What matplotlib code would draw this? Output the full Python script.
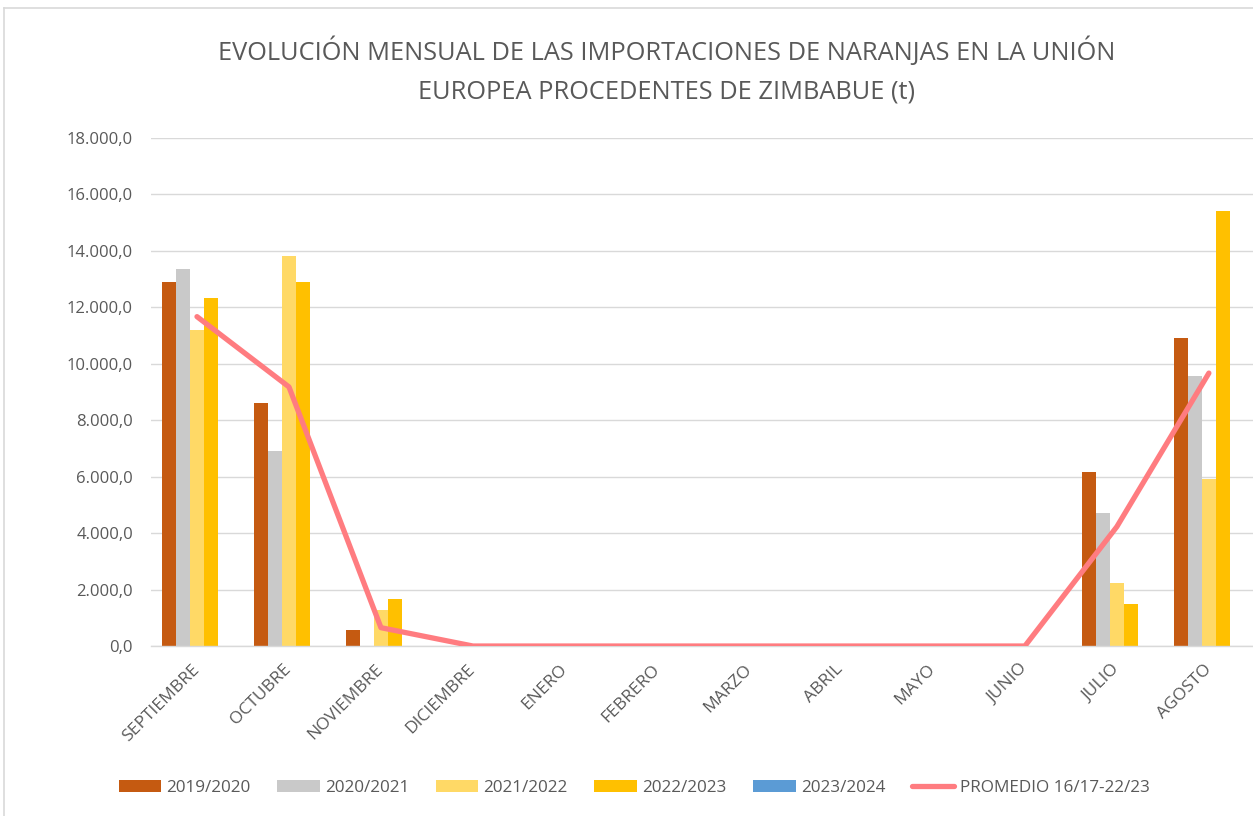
import numpy as np
import matplotlib
matplotlib.use('Agg')
import matplotlib.pyplot as plt
from matplotlib.lines import Line2D
from matplotlib.ticker import FuncFormatter

# data (t)
meses = ['SEPTIEMBRE', 'OCTUBRE', 'NOVIEMBRE', 'DICIEMBRE', 'ENERO', 'FEBRERO',
         'MARZO', 'ABRIL', 'MAYO', 'JUNIO', 'JULIO', 'AGOSTO']
campanas = ['2019/2020', '2020/2021', '2021/2022', '2022/2023', '2023/2024']
v_19_20 = [12900, 8620, 570, 0, 0, 0, 0, 0, 0, 0, 6180, 10930]
v_20_21 = [13370, 6910, 0, 0, 0, 0, 0, 0, 0, 0, 4730, 9570]
v_21_22 = [11200, 13830, 1280, 0, 0, 0, 0, 0, 0, 0, 2250, 5920]
v_22_23 = [12340, 12900, 1670, 0, 0, 0, 0, 0, 0, 0, 1490, 15420]
v_23_24 = [0, 0, 0, 0, 0, 0, 0, 0, 0, 0, 0, 0]
promedio = [11670, 9180, 650, 0, 0, 0, 0, 0, 0, 0, 4230, 9670]
promedio_label = 'PROMEDIO 16/17-22/23'

colores = ['#C55A11', '#C9C9C9', '#FFD966', '#FFC000', '#5B9BD5']
color_linea = '#FF7C80'
gris_txt = '#595959'
gris_grid = '#D9D9D9'

plt.rcParams['font.family'] = ['Open Sans', 'DejaVu Sans']

fig = plt.figure(figsize=(12.53, 8.16), dpi=100)
ax = fig.add_axes([0.1205, 0.2083, 0.881, 0.6226])

x = np.arange(len(meses))
ancho = 0.152
series = [v_19_20, v_20_21, v_21_22, v_22_23, v_23_24]
for i, (serie, nombre, col) in enumerate(zip(series, campanas, colores)):
    ax.bar(x + (i - 2) * ancho, serie, width=ancho, color=col, label=nombre, zorder=2)

ax.plot(x, promedio, color=color_linea, lw=3.8, solid_capstyle='round',
        label=promedio_label, zorder=3)

ax.set_xlim(-0.5, len(meses) - 0.5)
ax.set_ylim(0, 18000)
ax.set_yticks(np.arange(0, 18001, 2000))
ax.yaxis.set_major_formatter(FuncFormatter(
    lambda v, p: '{:,.1f}'.format(v).replace(',', 'X').replace('.', ',').replace('X', '.')))
ax.grid(axis='y', color=gris_grid, lw=1.0, zorder=0)
ax.set_axisbelow(True)
for s in ['top', 'right', 'left']:
    ax.spines[s].set_visible(False)
ax.spines['bottom'].set_color(gris_grid)
ax.spines['bottom'].set_linewidth(1.0)

ax.tick_params(axis='y', length=0, pad=13, labelsize=12, labelcolor=gris_txt)
ax.tick_params(axis='x', length=0, pad=15, labelsize=12.5, labelcolor=gris_txt)
ax.set_xticks(x)
ax.set_xticklabels(meses, rotation=45, ha='right', va='center', rotation_mode='anchor')

# title
fig.text(0.532, 0.914, 'EVOLUCIÓN MENSUAL DE LAS IMPORTACIONES DE NARANJAS EN LA UNIÓN\n'
         'EUROPEA PROCEDENTES DE ZIMBABUE (t)', ha='center', va='center',
         fontsize=18.3, color=gris_txt, linespacing=1.72)

# legend, line last as in the original
handles, labels = ax.get_legend_handles_labels()
handles = handles[1:] + handles[:1]
labels = labels[1:] + labels[:1]
fig.legend(handles, labels, loc='center', bbox_to_anchor=(0.506, 0.0345), ncol=6,
           frameon=False, fontsize=12.3, handlelength=2.5, handletextpad=0.3,
           columnspacing=1.55, labelcolor=gris_txt)

# chart border
fig.add_artist(Line2D([4 / 1253, 4 / 1253], [0, 1 - 8 / 816], transform=fig.transFigure,
                      color=gris_grid, lw=1.2))
fig.add_artist(Line2D([4 / 1253, 1], [1 - 8 / 816, 1 - 8 / 816], transform=fig.transFigure,
                      color=gris_grid, lw=1.2))

fig.savefig('out.png', dpi=100)
